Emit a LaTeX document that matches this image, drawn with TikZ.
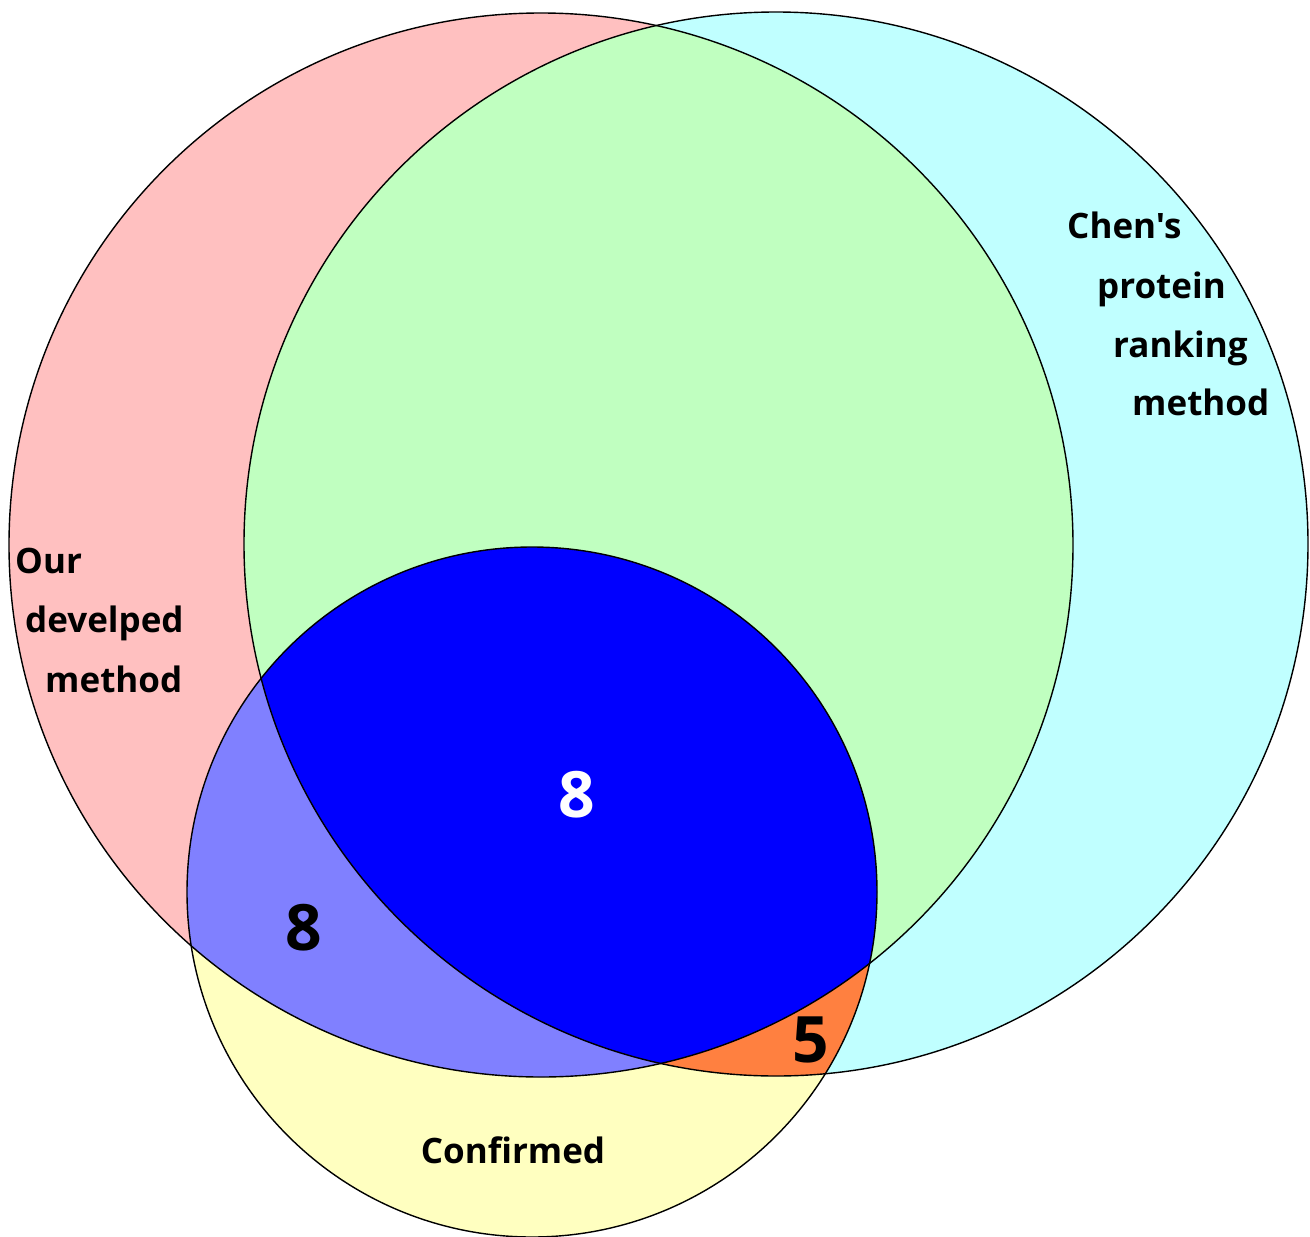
\documentclass[tikz,border=0pt]{standalone}
\usepackage{fontspec}
\setmainfont{Open Sans}[Ligatures=TeXOff]
\definecolor{setA}{RGB}{255,192,192}
\definecolor{setB}{RGB}{192,255,255}
\definecolor{setAB}{RGB}{192,255,192}
\definecolor{setC}{RGB}{255,255,192}
\definecolor{setAC}{RGB}{128,128,255}
\definecolor{setBC}{RGB}{255,128,64}
\definecolor{setABC}{RGB}{0,0,255}
\begin{document}
\begin{tikzpicture}[x=1pt,y=-1pt,
  outline/.style={draw=black,line width=1.4pt},
  setlabel/.style={anchor=base west,inner sep=0pt,font=\fontsize{35}{40}\selectfont\bfseries},
  count/.style={inner sep=0pt,font=\fontsize{64}{70}\selectfont\bfseries}]
  \def\circA{(541,545) circle[radius=532]}
  \def\circB{(776,544) circle[radius=532]}
  \def\circC{(532,892) circle[radius=345]}
  \useasboundingbox (0,0) rectangle (1310,1237);
  % base fills
  \fill[setC] \circC;
  \fill[setA] \circA;
  \fill[setB] \circB;
  \begin{scope}
    \clip \circA;
    \fill[setAB] \circB;
  \end{scope}
  % regions inside the confirmed set
  \begin{scope}
    \clip \circC;
    \fill[setAC] \circA;
    \fill[setBC] \circB;
    \clip \circA;
    \fill[setABC] \circB;
  \end{scope}
  % outlines
  \draw[outline] \circA;
  \draw[outline] \circB;
  \draw[outline] \circC;
  % set labels
  \node[setlabel] (a1) at (15,573) {Our};
  \node[setlabel] (a2) at (25,632) {develped};
  \node[setlabel] (a3) at (45,692) {method};
  \node[setlabel] (b1) at (1067,238) {Chen's};
  \node[setlabel] (b2) at (1097,298) {protein};
  \node[setlabel] (b3) at (1113,357) {ranking};
  \node[setlabel] (b4) at (1132,415) {method};
  \node[setlabel,anchor=base] (c1) at (513,1163) {Confirmed};
  % counts
  \node[count,text=white] (n1) at (577,795) {8};
  \node[count] (n2) at (304,928) {8};
  \node[count] (n3) at (811,1040) {5};
\end{tikzpicture}
\end{document}
